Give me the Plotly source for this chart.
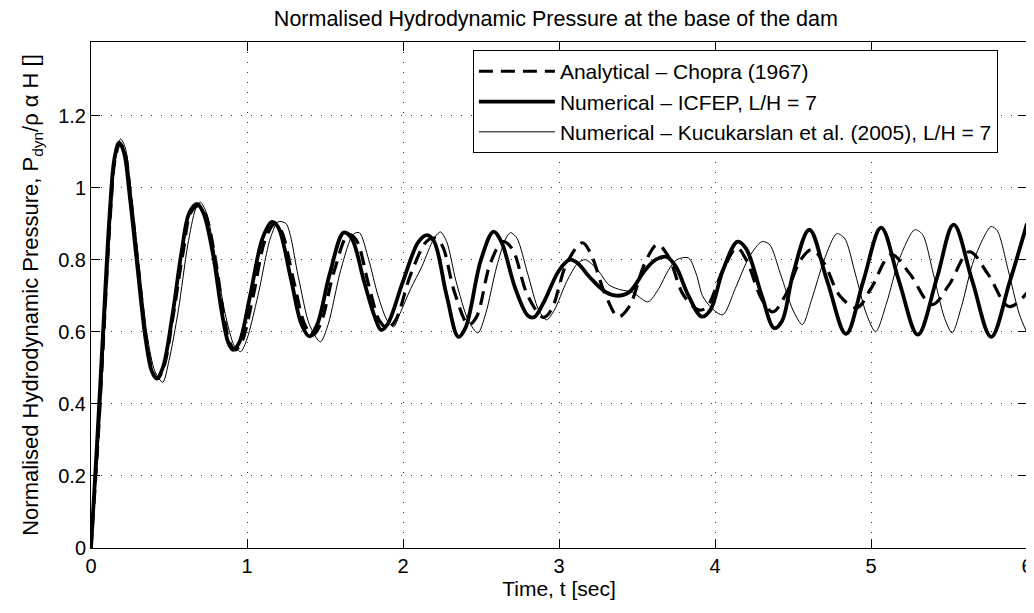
import plotly.graph_objects as go

# ---- data ----
t_icfep = [0, 0.04, 0.08, 0.12, 0.15, 0.18, 0.21, 0.25, 0.30, 0.35, 0.39, 0.42, 0.46, 0.52, 0.58, 0.63, 0.68, 0.72,
           0.78, 0.84, 0.88, 0.91, 0.95, 1.02, 1.10, 1.16, 1.20, 1.28, 1.35, 1.40, 1.45, 1.53, 1.62, 1.67, 1.75, 1.82,
           1.86, 1.90, 2.00, 2.10, 2.155, 2.20, 2.28, 2.355, 2.40, 2.50, 2.58, 2.63, 2.72, 2.80, 2.84, 2.90, 3.00, 3.07,
           3.12, 3.20, 3.30, 3.37, 3.45, 3.55, 3.62, 3.69, 3.75, 3.83, 3.915, 3.97, 4.05, 4.145, 4.20, 4.30, 4.38, 4.43,
           4.50, 4.605, 4.72, 4.84, 4.95, 5.065, 5.18, 5.30, 5.42, 5.53, 5.65, 5.77, 5.89, 6.0]
p_icfep = [0, 0.30, 0.62, 0.93, 1.08, 1.125, 1.10, 0.97, 0.77, 0.58, 0.49, 0.47, 0.50, 0.64, 0.82, 0.93, 0.955, 0.93,
           0.82, 0.65, 0.57, 0.55, 0.57, 0.70, 0.86, 0.905, 0.89, 0.75, 0.62, 0.587, 0.62, 0.76, 0.875, 0.86, 0.74, 0.64,
           0.605, 0.62, 0.74, 0.85, 0.868, 0.85, 0.70, 0.586, 0.61, 0.80, 0.878, 0.85, 0.72, 0.645, 0.64, 0.68, 0.77, 0.80,
           0.79, 0.75, 0.71, 0.70, 0.71, 0.77, 0.80, 0.808, 0.78, 0.70, 0.642, 0.66, 0.77, 0.85, 0.83, 0.70, 0.61, 0.63,
           0.76, 0.883, 0.74, 0.594, 0.74, 0.889, 0.74, 0.592, 0.745, 0.897, 0.74, 0.586, 0.74, 0.90]

t_chopra = [0, 0.045, 0.085, 0.125, 0.155, 0.185, 0.215, 0.255, 0.305, 0.355, 0.395, 0.425, 0.465, 0.525, 0.59, 0.64,
            0.69, 0.73, 0.79, 0.85, 0.89, 0.925, 0.965, 1.04, 1.12, 1.18, 1.22, 1.30, 1.37, 1.42, 1.47, 1.56, 1.65, 1.70,
            1.78, 1.85, 1.90, 1.95, 2.05, 2.15, 2.20, 2.25, 2.33, 2.42, 2.47, 2.56, 2.64, 2.70, 2.80, 2.90, 2.95, 3.05,
            3.15, 3.20, 3.30, 3.38, 3.45, 3.55, 3.63, 3.70, 3.80, 3.90, 3.95, 4.05, 4.14, 4.20, 4.30, 4.37, 4.45, 4.55,
            4.62, 4.70, 4.80, 4.91, 5.00, 5.13, 5.25, 5.39, 5.50, 5.63, 5.75, 5.885, 6.0]
p_chopra = [0, 0.30, 0.62, 0.93, 1.08, 1.12, 1.10, 0.97, 0.77, 0.58, 0.49, 0.47, 0.50, 0.64, 0.82, 0.93,
            0.95, 0.93, 0.82, 0.65, 0.57, 0.55, 0.57, 0.70, 0.86, 0.90, 0.88, 0.74, 0.62, 0.59, 0.62, 0.77, 0.87, 0.855,
            0.73, 0.63, 0.61, 0.63, 0.76, 0.85, 0.86, 0.84, 0.71, 0.62, 0.64, 0.79, 0.85, 0.83, 0.70, 0.64, 0.66, 0.79,
            0.847, 0.82, 0.70, 0.642, 0.67, 0.79, 0.842, 0.81, 0.70, 0.66, 0.67, 0.77, 0.833, 0.80, 0.69, 0.655, 0.70, 0.80,
            0.828, 0.79, 0.70, 0.667, 0.72, 0.814, 0.76, 0.675, 0.73, 0.822, 0.76, 0.67, 0.708]

t_kucuk = [0, 0.05, 0.09, 0.13, 0.16, 0.19, 0.22, 0.26, 0.31, 0.36, 0.41, 0.46, 0.50, 0.56, 0.62, 0.67, 0.70, 0.74,
           0.80, 0.86, 0.92, 0.96, 1.00, 1.07, 1.15, 1.20, 1.25, 1.33, 1.40, 1.47, 1.52, 1.60, 1.68, 1.72, 1.78, 1.84,
           1.90, 1.94, 1.98, 2.05, 2.12, 2.20, 2.24, 2.28, 2.34, 2.42, 2.48, 2.53, 2.60, 2.66, 2.69, 2.73, 2.80, 2.87,
           2.92, 2.97, 3.05, 3.12, 3.17, 3.25, 3.32, 3.39, 3.47, 3.57, 3.64, 3.70, 3.755, 3.83, 3.88, 3.92, 3.98, 4.05,
           4.13, 4.22, 4.30, 4.35, 4.42, 4.50, 4.56, 4.62, 4.70, 4.78, 4.83, 4.90, 4.97, 5.03, 5.10, 5.18, 5.28, 5.33,
           5.40, 5.47, 5.52, 5.58, 5.66, 5.77, 5.81, 5.88, 5.95, 6.0]
p_kucuk = [0, 0.30, 0.62, 0.93, 1.09, 1.135, 1.11, 0.98, 0.78, 0.59, 0.49, 0.46, 0.52, 0.66, 0.84, 0.94, 0.96, 0.93,
           0.80, 0.65, 0.56, 0.545, 0.58, 0.70, 0.86, 0.905, 0.90, 0.75, 0.62, 0.572, 0.62, 0.77, 0.87, 0.875, 0.80, 0.70,
           0.63, 0.614, 0.65, 0.72, 0.78, 0.86, 0.877, 0.85, 0.74, 0.63, 0.597, 0.65, 0.78, 0.86, 0.875, 0.86, 0.76, 0.66,
           0.633, 0.66, 0.74, 0.79, 0.80, 0.77, 0.73, 0.717, 0.71, 0.683, 0.72, 0.77, 0.80, 0.805, 0.76, 0.70, 0.665, 0.647,
           0.72, 0.808, 0.85, 0.842, 0.76, 0.66, 0.62, 0.69, 0.80, 0.872, 0.86, 0.76, 0.65, 0.60, 0.68, 0.80, 0.883, 0.87,
           0.76, 0.64, 0.597, 0.67, 0.80, 0.892, 0.88, 0.77, 0.65, 0.597]

x_ticks = [0, 1, 2, 3, 4, 5, 6]
y_ticks = [0, 0.2, 0.4, 0.6, 0.8, 1.0, 1.2]
y_tick_labels = ["0", "0.2", "0.4", "0.6", "0.8", "1", "1.2"]

FONT = "Liberation Sans, Arial, Helvetica, sans-serif"
FS = 20

# the page body has an 8 px default margin; the figure is sized so it ends at the window edge
PAGE_OFF = 8
FIG_W, FIG_H = 1034 - PAGE_OFF, 613 - PAGE_OFF

fig = go.Figure()
fig.add_trace(go.Scatter(x=t_chopra, y=p_chopra, mode="lines", name="Analytical \u2013 Chopra (1967)",
                         line=dict(color="black", width=3.2, dash="14px,8px", shape="spline", smoothing=1)))
fig.add_trace(go.Scatter(x=t_icfep, y=p_icfep, mode="lines", name="Numerical \u2013 ICFEP, L/H = 7",
                         line=dict(color="black", width=3.8, shape="spline", smoothing=1)))
fig.add_trace(go.Scatter(x=t_kucuk, y=p_kucuk, mode="lines",
                         name="Numerical \u2013 Kucukarslan et al. (2005), L/H = 7",
                         line=dict(color="black", width=1, shape="spline", smoothing=0.8)))

axis_common = dict(showline=True, linecolor="black", linewidth=1, mirror="ticks", ticks="inside",
                   ticklen=9, tickcolor="black", tickwidth=1, showgrid=True, gridcolor="#333333",
                   gridwidth=1, griddash="1px,9px", zeroline=False, automargin=False,
                   tickfont=dict(family=FONT, size=FS, color="black"))

fig.update_layout(
    width=FIG_W, height=FIG_H,
    margin=dict(l=91 - PAGE_OFF, r=7, t=42 - PAGE_OFF, b=65),
    paper_bgcolor="white", plot_bgcolor="white",
    font=dict(family=FONT, size=FS, color="black"),
    title=dict(text="Normalised Hydrodynamic Pressure at the base of the dam", x=0.534, xanchor="center",
               y=1 - 10 / FIG_H, yanchor="middle", yref="container",
               font=dict(family=FONT, size=21.5, color="black")),
    xaxis=dict(range=[0, 6], tickvals=x_ticks,
               title=dict(text="Time, t [sec]", standoff=4, font=dict(size=21)), **axis_common),
    yaxis=dict(range=[0, 1.404], tickvals=y_ticks, ticktext=y_tick_labels,
               title=dict(text="Normalised Hydrodynamic Pressure, P<sub>dyn</sub>/\u03c1 \u03b1 H []",
                          standoff=13, font=dict(size=22)),
               **axis_common),
    legend=dict(x=0.408, y=0.984, xanchor="left", yanchor="top", bgcolor="white", bordercolor="black",
                borderwidth=1, font=dict(family=FONT, size=21, color="black"), itemwidth=76,
                tracegroupgap=0),
    showlegend=True,
)

fig.write_html("out.html")
